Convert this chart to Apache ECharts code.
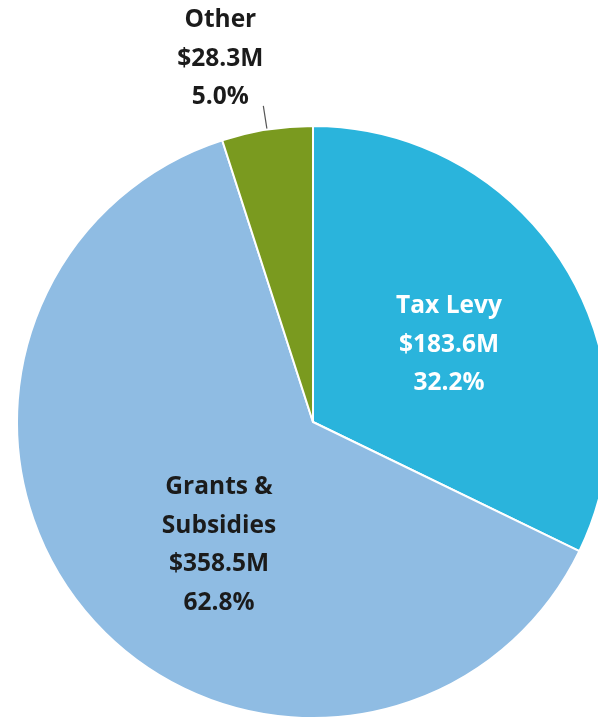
<!DOCTYPE html>
<html>
<head>
<meta charset="utf-8">
<script src="https://cdn.jsdelivr.net/npm/echarts@6/dist/echarts.min.js"></script>
<style>
  html, body { margin: 0; padding: 0; background: #ffffff; }
  #chart { width: 598px; height: 720px; }
</style>
</head>
<body>
<div id="chart"></div>
<script>
// Revenue sources (millions of dollars) and their shares
const categories = ['Tax Levy', 'Grants &\nSubsidies', 'Other'];
const amounts = [183.6, 358.5, 28.3];
const shares = [32.2, 62.8, 5.0];
const colors = ['#2AB4DC', '#8FBCE3', '#7A9A1F'];

const fontBase = {
  fontFamily: '"Open Sans", sans-serif',
  fontWeight: 'bold',
  fontSize: 24.5,
  lineHeight: 38.5
};

const labelStyles = [
  { position: 'inside', color: '#ffffff', offset: [8, 3] },
  { position: 'inside', color: '#1b1b1b', offset: [20, 24] },
  { position: 'outside', color: '#1b1b1b', offset: [17, -47] }
];

const data = categories.map((name, i) => ({
  name: name,
  value: amounts[i],
  itemStyle: { color: colors[i] },
  label: Object.assign({ show: true, align: 'center' }, fontBase, labelStyles[i], {
    rich: { c: Object.assign({ width: 110, align: 'center', color: labelStyles[i].color }, fontBase) }
  }),
  labelLine: i === 2
    ? { show: true, length: 24, length2: 0, lineStyle: { color: '#555555', width: 1.2 } }
    : { show: false }
}));

const chart = echarts.init(document.getElementById('chart'), null, { renderer: 'canvas' });
chart.setOption({
  backgroundColor: '#ffffff',
  animation: false,
  series: [{
    type: 'pie',
    center: [313, 422],
    radius: [0, 296],
    startAngle: 90,
    clockwise: true,
    avoidLabelOverlap: false,
    itemStyle: { borderColor: '#ffffff', borderWidth: 2 },
    label: {
      formatter: function (p) {
        const i = p.dataIndex;
        const lines = categories[i].split('\n').concat([
          '$' + amounts[i].toFixed(1) + 'M',
          shares[i].toFixed(1) + '%'
        ]);
        return lines.map(s => '{c|' + s + '}').join('\n');
      }
    },
    emphasis: { disabled: true },
    data: data
  }]
});
</script>
</body>
</html>
